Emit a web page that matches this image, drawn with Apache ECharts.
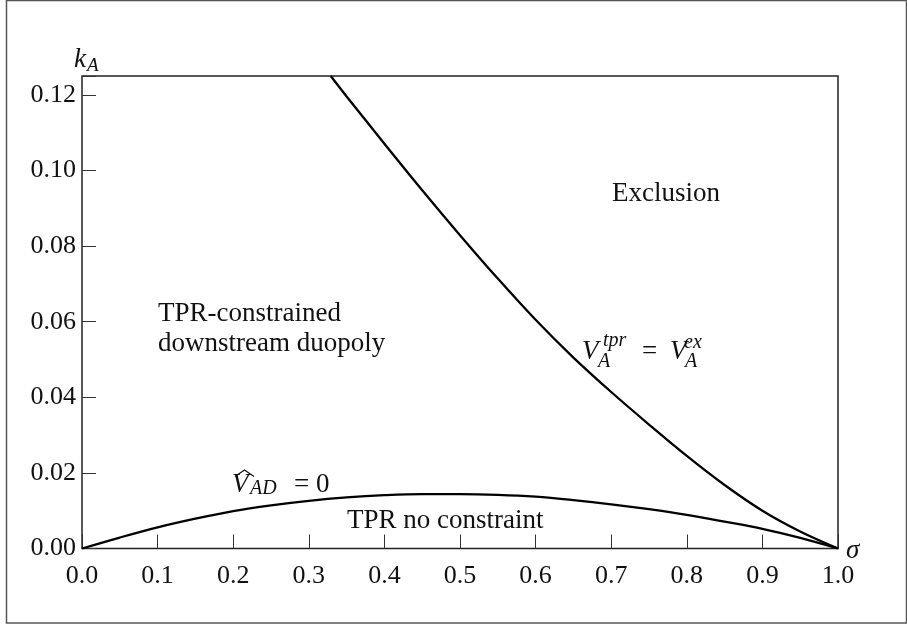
<!DOCTYPE html>
<html>
<head>
<meta charset="utf-8">
<script src="https://cdn.jsdelivr.net/npm/echarts@6/dist/echarts.min.js"></script>
<style>
  html, body { margin: 0; padding: 0; background: #fff; }
  #main { width: 907px; height: 627px; }
</style>
</head>
<body>
<div id="main"></div>
<script>
// sigma values and k_A for the two region boundaries
var vadSigma = [0.00, 0.05, 0.10, 0.15, 0.20, 0.25, 0.30, 0.35, 0.40, 0.45, 0.50,
                0.55, 0.60, 0.65, 0.70, 0.75, 0.80, 0.85, 0.90, 0.95, 1.00];
var vadK = [0, 0.0029, 0.0056, 0.0079, 0.0099, 0.0114, 0.0126, 0.0135, 0.0141, 0.0144, 0.0144,
            0.0142, 0.0137, 0.0128, 0.0117, 0.0104, 0.0089, 0.0071, 0.0052, 0.0028, 0];

var tprSigma = [0.329, 0.35, 0.40, 0.45, 0.50, 0.55, 0.60, 0.65, 0.70, 0.75, 0.80, 0.85, 0.90, 0.95, 1.00];
var tprK = [0.125, 0.1196, 0.1071, 0.0948, 0.0829, 0.0714, 0.0605, 0.0505, 0.0414, 0.0328,
            0.0245, 0.0168, 0.0100, 0.0045, 0];

var xTicks = { min: 0, max: 1, step: 0.1 };
var yTicks = { min: 0, max: 0.125, step: 0.02 };

var serif = "'Liberation Serif', 'DejaVu Serif', serif";

function pairs(xs, ys) {
    return xs.map(function (x, i) { return [x, ys[i]]; });
}

// y is the vertical middle of the text box (baseline sits ~0.3*size below)
function txt(x, y, text, size, italic) {
    return {
        type: 'text',
        x: x,
        y: y,
        style: {
            text: text,
            fill: '#111',
            font: (italic ? 'italic ' : '') + size + 'px ' + serif,
            align: 'left',
            verticalAlign: 'middle'
        }
    };
}

var myChart = echarts.init(document.getElementById('main'));

var option = {
    animation: false,
    backgroundColor: '#fff',
    grid: {
        left: 82,
        right: 69,
        top: 76,
        bottom: 78.5,
        show: true,
        borderColor: '#222',
        borderWidth: 1.5
    },
    xAxis: {
        type: 'value',
        min: xTicks.min,
        max: xTicks.max,
        interval: xTicks.step,
        axisLine: { show: false },
        splitLine: { show: false },
        axisTick: { inside: true, length: 14, lineStyle: { color: '#333', width: 1 } },
        axisLabel: {
            margin: 15,
            fontFamily: serif,
            fontSize: 26,
            color: '#111',
            formatter: function (v) { return v.toFixed(1); }
        }
    },
    yAxis: {
        type: 'value',
        min: yTicks.min,
        max: yTicks.max,
        interval: yTicks.step,
        axisLine: { show: false },
        splitLine: { show: false },
        axisTick: { inside: true, length: 14, lineStyle: { color: '#333', width: 1 } },
        axisLabel: {
            margin: 6,
            fontFamily: serif,
            fontSize: 26,
            color: '#111',
            formatter: function (v) { return v > 0.121 ? '' : v.toFixed(2); }
        }
    },
    series: [{
        name: 'VAD',
        type: 'line',
        showSymbol: false,
        smooth: 0.35,
        lineStyle: { color: '#000', width: 2.3 },
        data: pairs(vadSigma, vadK)
    }, {
        name: 'TPR',
        type: 'line',
        showSymbol: false,
        smooth: 0.35,
        lineStyle: { color: '#000', width: 2.3 },
        data: pairs(tprSigma, tprK)
    }],
    graphic: [
        // outer frame
        {
            type: 'rect',
            shape: { x: 6.5, y: 0.5, width: 900, height: 622.5 },
            style: { fill: 'none', stroke: '#555', lineWidth: 1.5 }
        },
        // axis names
        txt(74, 60, 'k', 27, true),
        txt(87, 66.3, 'A', 19, true),
        txt(846, 551, 'σ', 27, true),
        // regions
        txt(612, 193.6, 'Exclusion', 27, false),
        txt(158, 313.6, 'TPR-constrained', 27, false),
        txt(158, 343.6, 'downstream duopoly', 27, false),
        txt(347, 521.2, 'TPR no constraint', 27, false),
        // V_A^tpr = V_A^ex
        txt(582, 352, 'V', 27, true),
        txt(603, 341, 'tpr', 20, true),
        txt(598, 362, 'A', 20, true),
        txt(642, 352, '=', 27, false),
        txt(670, 352, 'V', 27, true),
        txt(684, 343, 'ex', 20, true),
        txt(685, 362, 'A', 20, true),
        // hat V_AD = 0
        txt(232, 485.2, 'V', 27, true),
        {
            type: 'polyline',
            shape: { points: [[235, 476.5], [244.5, 470], [254, 476.5]] },
            style: { fill: 'none', stroke: '#111', lineWidth: 1.2 }
        },
        txt(250, 489, 'AD', 20, true),
        txt(294, 485.2, '= 0', 27, false)
    ]
};

myChart.setOption(option);
</script>
</body>
</html>
